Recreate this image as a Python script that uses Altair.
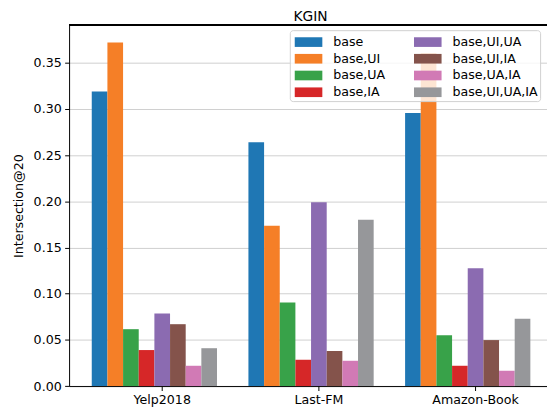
import altair as alt
import pandas as pd

datasets = ["Yelp2018", "Last-FM", "Amazon-Book"]
methods = ["base", "base,UI", "base,UA", "base,IA",
           "base,UI,UA", "base,UI,IA", "base,UA,IA", "base,UI,UA,IA"]
colors = ["#1f77b4", "#f57f27", "#38a249", "#d62728",
          "#8b6bb1", "#84534b", "#d17ab5", "#96979a"]

yelp = [0.319, 0.372, 0.0616, 0.039, 0.0786, 0.067, 0.022, 0.041]
lastfm = [0.264, 0.1736, 0.0904, 0.0285, 0.199, 0.038, 0.0274, 0.180]
amazon = [0.2956, 0.3603, 0.055, 0.022, 0.1276, 0.0498, 0.0166, 0.073]

yticks = [0.00, 0.05, 0.10, 0.15, 0.20, 0.25, 0.30, 0.35]

rows = []
for ds, vals in zip(datasets, [yelp, lastfm, amazon]):
    for m, v in zip(methods, vals):
        rows.append({"dataset": ds, "method": m, "value": v})
df = pd.DataFrame(rows)

FONT = "DejaVu Sans"
FS = 12.8

bars = alt.Chart(df).mark_bar().encode(
    x=alt.X("dataset:N", sort=datasets,
            scale=alt.Scale(paddingInner=0.1006, paddingOuter=0.0755, align=0.958),
            axis=alt.Axis(title=None, labelAngle=0, labelFontSize=FS, labelColor="black",
                          tickSize=4.5, tickColor="black", domainColor="black",
                          labelPadding=3, grid=False)),
    xOffset=alt.XOffset("method:N",
                        scale=alt.Scale(domain=methods + ["~pad"], paddingInner=0, paddingOuter=0)),
    y=alt.Y("value:Q",
            scale=alt.Scale(domain=[0, 0.3906], nice=False, zero=True),
            axis=alt.Axis(title="Intersection@20", values=yticks, format=".2f",
                          labelFontSize=FS, labelColor="black", titleFontSize=FS,
                          titleFontWeight="normal", titleColor="black", titlePadding=8,
                          tickSize=4.5, tickColor="black", domainColor="black",
                          labelPadding=3.5, grid=True, gridColor="#cfcfcf", gridWidth=1)),
    color=alt.Color("method:N",
                    scale=alt.Scale(domain=methods, range=colors),
                    legend=alt.Legend(title=None, orient="none", legendX=224, legendY=5,
                                      columns=2, columnPadding=26, rowPadding=0,
                                      symbolType="M-0.7,-0.49H2.1V0.49H-0.7Z",
                                      symbolSize=400, symbolStrokeWidth=0,
                                      labelFontSize=FS, labelColor="black", labelOffset=22,
                                      padding=2, fillColor="rgba(255,255,255,0.8)",
                                      strokeColor="#d0d0d0", cornerRadius=3)),
)

top_spine = alt.Chart(df).mark_rule(color="black", strokeWidth=1).encode(y=alt.value(0))

chart = alt.layer(bars, top_spine).properties(
    width=485, height=366.2,
    title=alt.TitleParams("KGIN", fontSize=14, fontWeight="normal", color="black",
                          font=FONT, anchor="middle", offset=1, dx=2.5),
    autosize=alt.AutoSizeParams(type="none"),
    padding={"left": 62, "top": 14.5, "right": 0, "bottom": 24},
).configure(font=FONT).configure_view(strokeWidth=0)

chart.save("out.html", embed_options={"renderer": "svg", "actions": False})
